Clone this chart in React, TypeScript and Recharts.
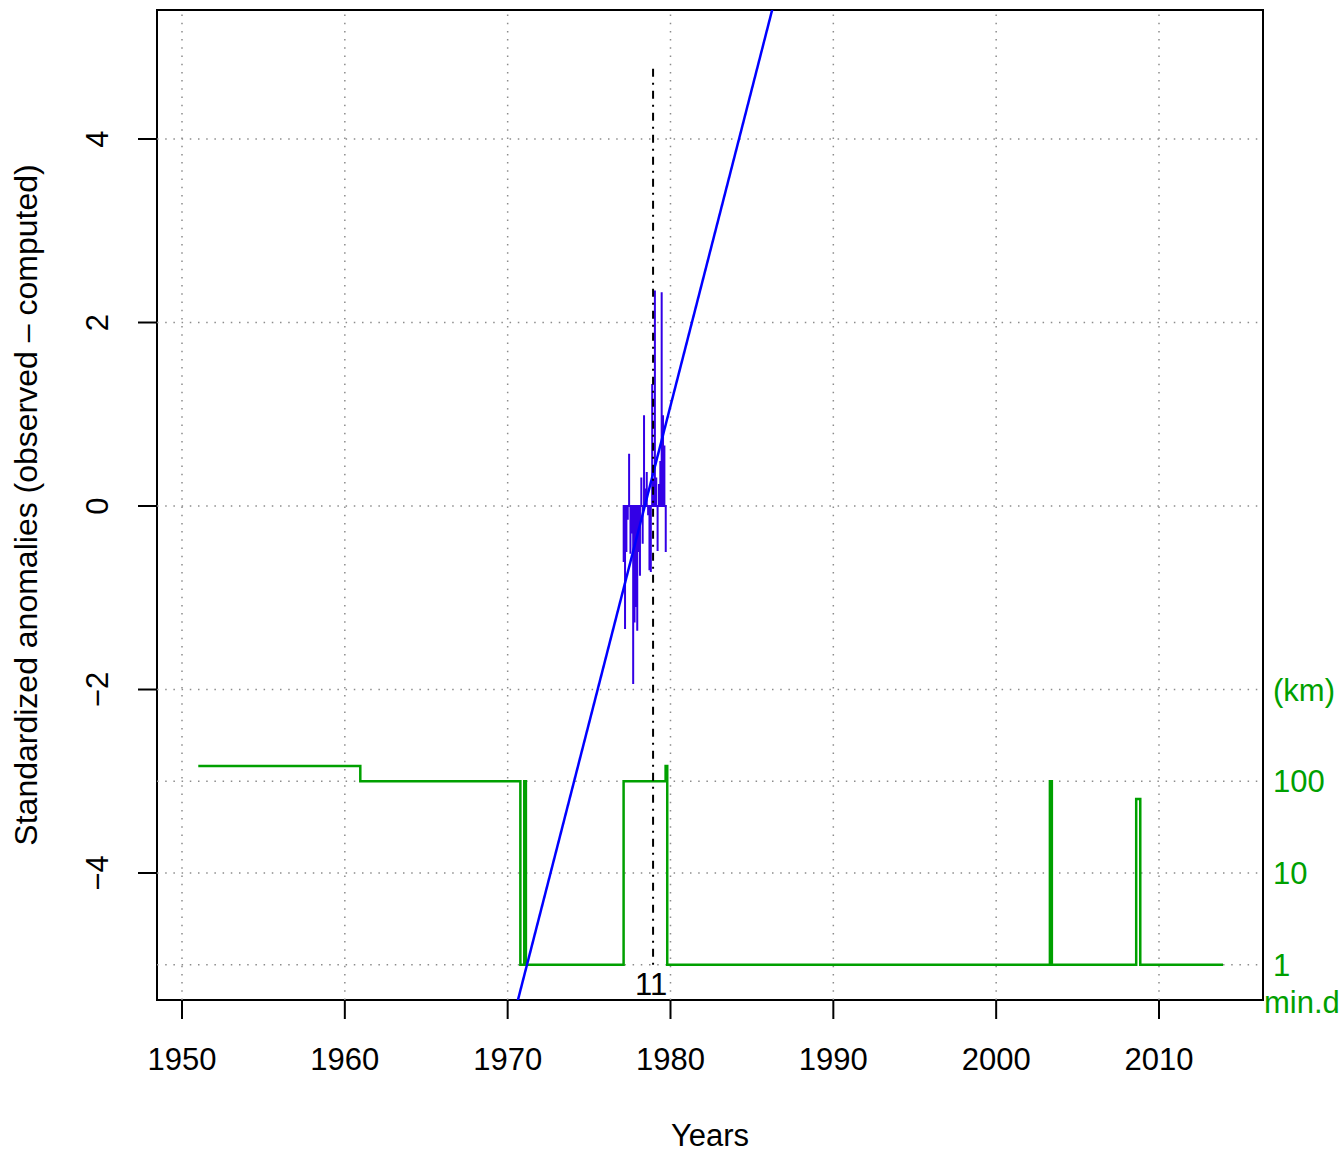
import {
  ComposedChart,
  Line,
  XAxis,
  YAxis,
  ReferenceLine,
  ReferenceArea,
  ReferenceDot
} from "recharts";

// axes
const xDomain = [1948.465, 2016.387];
const yDomain = [-5.384, 5.406];
const kmDomain = [0.413, 2.547e10];
const xTicks = [1950, 1960, 1970, 1980, 1990, 2000, 2010];
const yTicks = [-4, -2, 0, 2, 4];
const gridY = [4, 2, 0, -2, -3, -4, -5];
const kmTicks = [1, 10, 100, 1000];

// monthly standardized anomalies, Feb 1977 onwards
const anomalyStart = 1977.125;
const anomalyValues = [
  -0.61, -1.34, -0.5, -0.15, 0.57, -0.52, -0.3, -1.94, -1.27, -1.1, -1.36,
  -0.5, -0.76, 0.31, -0.41, 0.99, 0.19, 0.37, -0.1, -0.7, -0.72, 1.33, 0.3,
  2.35, 0.31, -0.49, 0.24, 0.49, 2.33, 0.99, 0.66, -0.5
];

// fitted trend
const trendYears = [1970, 1987];
const trendValues = [-5.82, 5.93];

// break
const breakYear = 1978.93;
const breakBottom = -5;
const breakTop = 4.81;
const breakLabel = "11";
const breakLabelY = -5.33;

// min distance (km)
const greenYears = [
  1951.0, 1960.95, 1970.78, 1971.02, 1971.12, 1977.12, 1979.7, 1979.8,
  2003.3, 2003.42, 2008.6, 2008.85, 2013.93
];
const greenKm = [147, 100, 1, 100, 1, 100, 147, 1, 100, 1, 64, 1, 1];

const anomalyData = anomalyValues.flatMap((v, i) => {
  const t = anomalyStart + i / 12;
  return [
    { x: t, v: 0 },
    { x: t, v },
    { x: t, v: 0 }
  ];
});
const trendData = trendYears.map((x, i) => ({ x, v: trendValues[i] }));
const greenData = greenYears.map((x, i) => ({ x, km: greenKm[i] }));

const FONT = "'Liberation Sans', Arial, Helvetica, sans-serif";
const FS = 31;
const GREEN = "#00A000";
const GRID = "#8c8c8c";
const GRID_DASH = "1.5 6.7";

const fmt = (v: number) => (v < 0 ? "\u2212" + -v : String(v));

const XTick = ({ x, y, payload }: any) => (
  <text x={x} y={y + 51} textAnchor="middle" fontSize={FS} fontFamily={FONT} fill="#000">
    {payload.value}
  </text>
);

const YTick = ({ x, y, payload }: any) => (
  <text
    x={x - 30}
    y={y}
    transform={`rotate(-90 ${x - 30} ${y})`}
    textAnchor="middle"
    fontSize={FS}
    fontFamily={FONT}
    fill="#000"
  >
    {fmt(payload.value)}
  </text>
);

const KmTick = ({ x, y, payload }: any) => (
  <text x={x + 10} y={y + 11} textAnchor="start" fontSize={FS} fontFamily={FONT} fill={GREEN}>
    {payload.value === 1000 ? "(km)" : payload.value}
  </text>
);

export default function App() {
  return (
    <div style={{ position: "absolute", left: 0, top: 0, background: "#fff" }}>
      <ComposedChart
        width={1344}
        height={1152}
        margin={{ top: 10, right: 0, bottom: 0, left: 0 }}
      >
        <XAxis
          dataKey="x"
          type="number"
          domain={xDomain}
          ticks={xTicks}
          allowDataOverflow
          height={152}
          tickSize={19}
          tickMargin={0}
          tickLine={{ stroke: "#000", strokeWidth: 2 }}
          axisLine={false}
          tick={<XTick />}
          label={{
            content: ({ viewBox }: any) => (
              <text
                x={viewBox.x + viewBox.width / 2}
                y={viewBox.y + 146}
                textAnchor="middle"
                fontSize={FS}
                fontFamily={FONT}
                fill="#000"
              >
                Years
              </text>
            )
          }}
        />
        <YAxis
          yAxisId="left"
          type="number"
          domain={yDomain}
          ticks={yTicks}
          allowDataOverflow
          width={157}
          tickSize={19}
          tickMargin={0}
          tickLine={{ stroke: "#000", strokeWidth: 2 }}
          axisLine={false}
          tick={<YTick />}
          label={{
            content: ({ viewBox }: any) => {
              const cx = viewBox.x + 37;
              const cy = viewBox.y + viewBox.height / 2;
              return (
                <text
                  x={cx}
                  y={cy}
                  transform={`rotate(-90 ${cx} ${cy})`}
                  textAnchor="middle"
                  fontSize={32}
                  fontFamily={FONT}
                  fill="#000"
                >
                  Standardized anomalies (observed – computed)
                </text>
              );
            }
          }}
        />
        <YAxis
          yAxisId="km"
          orientation="right"
          scale="log"
          type="number"
          domain={kmDomain}
          ticks={kmTicks}
          allowDataOverflow
          width={81}
          tickSize={0}
          tickMargin={0}
          tickLine={false}
          axisLine={false}
          tick={<KmTick />}
          label={{
            content: ({ viewBox }: any) => (
              <text
                x={viewBox.x + 1}
                y={viewBox.y + viewBox.height + 13}
                textAnchor="start"
                fontSize={FS}
                fontFamily={FONT}
                fill={GREEN}
              >
                min.d
              </text>
            )
          }}
        />

        {xTicks.map((t) => (
          <ReferenceLine
            key={"gx" + t}
            yAxisId="left"
            x={t}
            stroke={GRID}
            strokeWidth={1.5}
            strokeDasharray={GRID_DASH}
          />
        ))}
        {gridY.map((t) => (
          <ReferenceLine
            key={"gy" + t}
            yAxisId="left"
            y={t}
            stroke={GRID}
            strokeWidth={1.5}
            strokeDasharray={GRID_DASH}
          />
        ))}

        <Line
          yAxisId="km"
          data={greenData}
          dataKey="km"
          type="stepAfter"
          stroke={GREEN}
          strokeWidth={2.5}
          dot={false}
          isAnimationActive={false}
        />
        <Line
          yAxisId="left"
          data={anomalyData}
          dataKey="v"
          type="linear"
          stroke="#3300E6"
          strokeWidth={2}
          dot={false}
          isAnimationActive={false}
        />
        <Line
          yAxisId="left"
          data={trendData}
          dataKey="v"
          type="linear"
          stroke="#0000FF"
          strokeWidth={2.5}
          dot={false}
          isAnimationActive={false}
        />

        <ReferenceLine
          yAxisId="left"
          segment={[
            { x: breakYear, y: breakBottom },
            { x: breakYear, y: breakTop }
          ]}
          stroke="#000"
          strokeWidth={2}
          strokeDasharray="2 6 8 6"
        />
        <ReferenceDot
          yAxisId="left"
          x={breakYear}
          y={breakLabelY}
          r={0}
          ifOverflow="visible"
          shape={(p: any) => (
            <text x={p.cx - 2} y={p.cy} textAnchor="middle" fontSize={FS} fontFamily={FONT} fill="#000">
              {breakLabel}
            </text>
          )}
        />

        <ReferenceArea
          yAxisId="left"
          x1={xDomain[0]}
          x2={xDomain[1]}
          y1={yDomain[0]}
          y2={yDomain[1]}
          fill="none"
          fillOpacity={0}
          stroke="#000"
          strokeWidth={2}
          ifOverflow="visible"
        />
      </ComposedChart>
    </div>
  );
}
